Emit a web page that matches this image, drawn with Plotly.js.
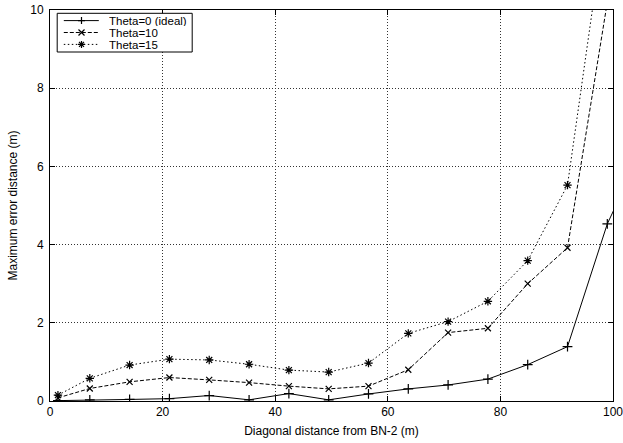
<!DOCTYPE html>
<html>
<head>
<meta charset="utf-8">
<script src="https://cdn.plot.ly/plotly-3.0.1.min.js"></script>
<style>html,body{margin:0;padding:0;background:#fff;}#chart{width:623px;height:443px;}</style>
</head>
<body>
<div id="chart"></div>
<script>
// Diagonal distance from BN-2 (m)
var distance = [1.41, 7.07, 14.14, 21.21, 28.28, 35.36, 42.43, 49.50, 56.57, 63.64, 70.71, 77.78, 84.85, 91.92, 98.99, 106.07];
// Maximum error distance (m)
var theta0  = [0.01, 0.03, 0.04, 0.06, 0.14, 0.03, 0.19, 0.03, 0.18, 0.31, 0.41, 0.56, 0.93, 1.39, 4.53, 6.7];
var theta10 = [0.08, 0.32, 0.49, 0.60, 0.54, 0.47, 0.38, 0.31, 0.38, 0.80, 1.75, 1.86, 3.00, 3.92, 10.2];
var theta15 = [0.15, 0.58, 0.92, 1.07, 1.05, 0.94, 0.79, 0.74, 0.97, 1.73, 2.03, 2.55, 3.59, 5.52, 12.7];
var seriesNames = ['Theta=0 (ideal)', 'Theta=10', 'Theta=15'];
var xTicks = [0, 20, 40, 60, 80, 100];
var yTicks = [0, 2, 4, 6, 8, 10];

var FONT = 'Liberation Sans, Arial, Helvetica, sans-serif';
var styles = [
  {dash: 'solid', symbol: 'cross-thin-open', size: 7},
  {dash: '4px,2px', symbol: 'x-thin-open', size: 6},
  {dash: '1.5px,2.5px', symbol: 'asterisk-open', size: 7}
];
var ys = [theta0, theta10, theta15];

var traces = ys.map(function (y, i) {
  return {
    x: distance.slice(0, y.length), y: y, name: seriesNames[i],
    type: 'scatter', mode: 'lines+markers', showlegend: false,
    line: {color: '#000', width: 1, dash: styles[i].dash},
    marker: {symbol: styles[i].symbol, size: styles[i].size, color: '#000',
             line: {color: '#000', width: 1.2}}
  };
});

// custom gnuplot-like key (pixel offsets from plot top-left)
var shapes = [{
  type: 'rect', xref: 'paper', yref: 'paper', xsizemode: 'pixel', ysizemode: 'pixel',
  xanchor: 0, yanchor: 1, x0: 7.2, x1: 142.2, y0: -3.3, y1: -42,
  line: {color: '#000', width: 1}, fillcolor: '#fff', layer: 'above'
}];
var annotations = [];
var rowY = [-10.6, -22.5, -34.4];
var markerPaths = [
  function (cx, cy) { return 'M' + (cx - 3.5) + ',' + cy + 'H' + (cx + 3.5) + 'M' + cx + ',' + (cy - 3.5) + 'V' + (cy + 3.5); },
  function (cx, cy) { return 'M' + (cx - 3) + ',' + (cy - 3) + 'L' + (cx + 3) + ',' + (cy + 3) + 'M' + (cx - 3) + ',' + (cy + 3) + 'L' + (cx + 3) + ',' + (cy - 3); },
  function (cx, cy) { return 'M' + (cx - 3.5) + ',' + cy + 'H' + (cx + 3.5) + 'M' + cx + ',' + (cy - 3.5) + 'V' + (cy + 3.5) +
                       'M' + (cx - 2.5) + ',' + (cy - 2.5) + 'L' + (cx + 2.5) + ',' + (cy + 2.5) + 'M' + (cx - 2.5) + ',' + (cy + 2.5) + 'L' + (cx + 2.5) + ',' + (cy - 2.5); }
];
seriesNames.forEach(function (name, i) {
  var yy = rowY[i];
  shapes.push({
    type: 'line', xref: 'paper', yref: 'paper', xsizemode: 'pixel', ysizemode: 'pixel',
    xanchor: 0, yanchor: 1, x0: 13.8, x1: 48.8, y0: yy, y1: yy,
    line: {color: '#000', width: 1, dash: styles[i].dash}, layer: 'above'
  });
  shapes.push({
    type: 'path', xref: 'paper', yref: 'paper', xsizemode: 'pixel', ysizemode: 'pixel',
    xanchor: 0, yanchor: 1, path: markerPaths[i](31.5, yy),
    line: {color: '#000', width: 1.2}, layer: 'above'
  });
  annotations.push({
    xref: 'paper', yref: 'paper', x: 0, y: 1, xshift: 57.8, yshift: yy,
    xanchor: 'left', yanchor: 'middle', showarrow: false, text: name,
    borderpad: 0, height: 11,
    font: {family: FONT, size: 11.5, color: '#000'}
  });
});

var axisCommon = {
  showline: true, linecolor: '#000', linewidth: 1, mirror: 'ticks',
  ticks: 'inside', ticklen: 5, tickwidth: 1, tickcolor: '#000',
  showgrid: true, gridcolor: '#333', gridwidth: 1, griddash: '1px,2px',
  zeroline: false, ticklabeloverflow: 'allow',
  tickfont: {family: FONT, size: 12, color: '#000'}
};

var layout = {
  width: 623, height: 443,
  margin: {l: 50, r: 10, t: 10, b: 42},
  paper_bgcolor: '#fff', plot_bgcolor: '#fff',
  showlegend: false,
  xaxis: Object.assign({}, axisCommon, {
    range: [0, 100], tickmode: 'array', tickvals: xTicks, ticktext: xTicks.map(String),
    title: {text: 'Diagonal distance from BN-2 (m)', font: {family: FONT, size: 12, color: '#000'}, standoff: 8}
  }),
  yaxis: Object.assign({}, axisCommon, {
    range: [0, 10], tickmode: 'array', tickvals: yTicks, ticktext: yTicks.map(String),
    ticklabelstandoff: 3,
    title: {text: 'Maximum error distance (m)', font: {family: FONT, size: 12, color: '#000'}, standoff: 10}
  }),
  shapes: shapes,
  annotations: annotations
};

Plotly.newPlot('chart', traces, layout, {staticPlot: true, displayModeBar: false});
</script>
</body>
</html>
